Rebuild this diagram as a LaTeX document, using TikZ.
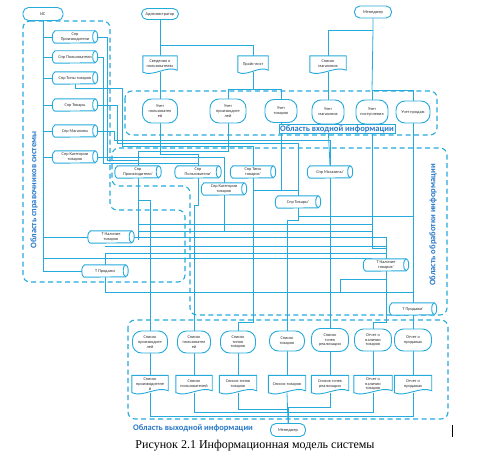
\documentclass[tikz,border=0pt]{standalone}
\usepackage{fontspec}
\setmainfont{Carlito}
\newfontfamily\capfont{Liberation Serif}
\usetikzlibrary{calc}
\pgfdeclarelayer{bg}
\pgfdeclarelayer{mid}
\pgfsetlayers{bg,mid,main}
\definecolor{lc}{RGB}{38,170,220}
\definecolor{lab}{RGB}{40,120,200}
\definecolor{tx}{RGB}{45,45,45}
\tikzset{
  ln/.style={draw=lc, line width=0.8pt},
  area/.style={draw=lc, line width=1.1pt, dash pattern=on 5pt off 3.5pt, rounded corners=7pt},
  small/.style={font=\fontsize{4.3}{4.9}\selectfont, text=tx, align=center, inner sep=0pt},
  term/.style={small, draw=lc, line width=0.9pt, fill=white, rounded corners=5.5pt},
  blob/.style={small, draw=lc, line width=0.9pt, fill=white, rounded corners=9pt},
  shapeln/.style={draw=lc, line width=0.9pt},
  arealabel/.style={font=\bfseries\fontsize{8.5}{10}\selectfont, text=lab, inner sep=1pt},
}
% document shape: name, x, y, w, h, text
\newcommand{\docnode}[6]{%
  \node[small, minimum width=#4pt, minimum height=#5pt] (#1) at (#2,#3) {#6};
  \begin{pgfonlayer}{mid}
  \draw[shapeln, fill=white] (#1.north west) -- (#1.north east) -- ($(#1.south east)+(0,-2)$)
     .. controls ($(#1.south east)+(-0.3*#4,-7)$) and ($(#1.south west)+(0.3*#4,5)$) .. (#1.south west) -- cycle;
  \end{pgfonlayer}}
% horizontal cylinder: name, x, y, w, h, text
\newcommand{\cylnode}[6]{%
  \node[small, minimum width=#4pt, minimum height=#5pt] (#1) at (#2,#3) {#6};
  \begin{pgfonlayer}{mid}
  \draw[shapeln, fill=white] (#1.north west) -- (#1.north east)
     arc[start angle=-90, end angle=90, x radius=2.5, y radius=#5/2] -- (#1.south west)
     arc[start angle=90, end angle=270, x radius=2.5, y radius=#5/2] -- cycle;
  \draw[shapeln] (#1.north east) arc[start angle=270, end angle=90, x radius=2.5, y radius=#5/2];
  \end{pgfonlayer}}
\begin{document}
\begin{tikzpicture}[x=1pt, y=-1pt]
\useasboundingbox (0,0) rectangle (481,460);
\begin{pgfonlayer}{bg}
\fill[white] (0,0) rectangle (481,460);
\end{pgfonlayer}

% ---------------- terminals
\node[term, minimum width=40pt, minimum height=13pt] (is) at (43,14) {ИС};
\node[term, minimum width=37pt, minimum height=11pt] (adm) at (160,14) {Администратор};
\node[term, minimum width=37pt, minimum height=12pt] (mgr) at (373,12) {Менеджер};
\node[term, minimum width=35pt, minimum height=13pt] (mgr2) at (288,430) {Менеджер};

% ---------------- input documents
\docnode{sved}{160}{64}{34}{16}{Сведения о\\пользователях}
\docnode{price}{253}{64}{30}{16}{Прайс-лист}
\docnode{smag}{328}{64}{36}{16}{Список\\магазинов}

% ---------------- input processes
\node[blob, minimum width=35pt, minimum height=24pt] (uuser) at (160,111) {Учет\\пользовател\\ей};
\node[blob, minimum width=36pt, minimum height=24pt] (uprod) at (228,111) {Учет\\производите\\лей};
\node[blob, minimum width=32pt, minimum height=23pt] (ugoods) at (281,111) {Учет\\товаров};
\node[blob, minimum width=32pt, minimum height=24pt] (ushop) at (328,112) {Учет\\магазинов};
\node[blob, minimum width=32pt, minimum height=24pt] (upost) at (372,112) {Учет\\поступления};
\node[blob, minimum width=34pt, minimum height=22pt] (usales) at (413,112) {Учет продаж};

% ---------------- directories
\cylnode{dprod}{75}{37}{40}{12}{Спр\\Производители}
\cylnode{duser}{75}{57}{40}{12}{Спр Пользователи}
\cylnode{dtypes}{75}{78}{40}{12}{Спр Типы товаров}
\cylnode{dgoods}{75}{105}{40}{12}{Спр Товары}
\cylnode{dshops}{75}{131}{40}{12}{Спр Магазины}
\cylnode{dcat}{75}{157}{40}{12}{Спр Категории\\товаров}
\cylnode{tnal}{111}{237}{41}{12}{Т Наличие\\товаров}
\cylnode{tprod}{105}{271}{41}{12}{Т Продажи}

% ---------------- processing
\cylnode{pprod}{138}{172}{41}{12}{Спр\\Производители'}
\cylnode{puser}{198}{172}{41}{12}{Спр\\Пользователи'}
\cylnode{ptypes}{253}{172}{40}{12}{Спр Типы\\товаров'}
\cylnode{pcat}{224}{189}{40}{12}{Спр Категории\\товаров}
\cylnode{pgoods}{298}{202}{40}{12}{Спр Товары'}
\cylnode{pshops}{330}{172}{40}{12}{Спр Магазины'}
\cylnode{tnal2}{386}{265}{40}{12}{Т Наличие\\товаров'}
\cylnode{tprod2}{413}{309}{42}{12}{Т Продажи'}

% ---------------- output
\node[blob, minimum width=35pt, minimum height=22pt] (oprod) at (150,342) {Список\\производите\\лей};
\node[blob, minimum width=33pt, minimum height=22pt] (ouser) at (194,342) {Список\\пользовател\\ей};
\node[blob, minimum width=35pt, minimum height=22pt] (otypes) at (238,342) {Список\\типов\\товаров};
\node[blob, minimum width=35pt, minimum height=20pt] (ogoods) at (287,341) {Список\\товаров};
\node[blob, minimum width=37pt, minimum height=23pt] (opoints) at (330,340) {Список\\точек\\реализации};
\node[blob, minimum width=37pt, minimum height=22pt] (onal) at (373,340) {Отчет о\\наличии\\товаров};
\node[blob, minimum width=37pt, minimum height=22pt] (osales) at (413,340) {Отчет о\\продажах};

\docnode{bprod}{150}{384}{36}{17}{Список\\производителе\\й}
\docnode{buser}{194}{384}{36}{17}{Список\\пользователей}
\docnode{btypes}{238}{384}{37}{17}{Список типов\\товаров}
\docnode{bgoods}{287}{384}{37}{17}{Список товаров}
\docnode{bpoints}{330}{384}{37}{17}{Список точек\\реализации}
\docnode{bnal}{373}{384}{38}{17}{Отчет о\\наличии\\товаров}
\docnode{bsales}{413}{384}{37}{17}{Отчет о\\продажах}

% ---------------- area labels and caption
\node[arealabel, rotate=90] (labdir) at (34,190) {Область справочников системы};
\node[arealabel, rotate=90] (labproc) at (433,225) {Область обработки информации};
\node[arealabel, draw=lc, line width=0.6pt, fill=white] (labin) at (337,129) {Область входной информации};
\node[arealabel] (labout) at (193,428) {Область выходной информации};
\node[font=\capfont\fontsize{12}{14}\selectfont, text=black, inner sep=0pt] (cap) at (255,446) {Рисунок 2.1 Информационная модель системы};
\coordinate (cur1) at (452,425);
\coordinate (cur2) at (452,437);
\draw[black, line width=1pt] (cur1) -- (cur2);

% ---------------- background: areas and connectors
\begin{pgfonlayer}{bg}
\draw[area] (23,21) -- (110,21) -- (110,210) -- (185,210) -- (185,282) -- (23,282) -- cycle;
\draw[area] (125,91) rectangle (437,135);
\draw[area] (112,148) -- (447,148) -- (447,315) -- (190,315) -- (190,186) -- (112,186) -- cycle;
\draw[area] (128,320) rectangle (448,419);

% IS trunk
\draw[ln] (is.south) |- (dprod.west);
\draw[ln] (is.south) |- (duser.west);
\draw[ln] (is.south) |- (dtypes.west);
\draw[ln] (is.south) |- (dgoods.west);
\draw[ln] (is.south) |- (dshops.west);
\draw[ln] (is.south) |- (dcat.west);
\draw[ln] (is.south) |- (tnal.west);
\draw[ln] (is.south) |- (tprod.west);
\coordinate (isb) at (372,258);
\draw[ln] (is.south) |- (isb);

% administrator
\coordinate (aj) at (160,45);
\draw[ln] (adm.south) -- (sved.north);
\draw[ln] (aj) -| (price.north);
\draw[ln] (sved.south) -- (uuser.north);
\coordinate (pj) at (253,89);
\draw[ln] (price.south) -- (pj);
\draw[ln] (pj) -| (uprod.north);
\draw[ln] (pj) -| (ugoods.north);

% manager
\coordinate (mj1) at (373,30);
\coordinate (mj2) at (372,90);
\draw[ln] (mgr.south) -- (mj1) -- (mj2);
\draw[ln] (mj1) -| (smag.north);
\draw[ln] (mj2) -- (upost.north);
\draw[ln] (mj2) -| (usales.north);
\draw[ln] (smag.south) -- (ushop.north);

% directories -> processing
\draw[ln] (dprod.east) -- (107,37) -- (107,160) -| (pprod.north);
\draw[ln] (duser.east) -- (103,57) -- (103,163) -| (puser.north);
\draw[ln] (dtypes.south) -- (75,88) -- (122,88) -- (122,146) -| (ptypes.north);
\draw[ln] (dgoods.east) -- (117,105) -- (117,143) -| (pgoods.north);
\draw[ln] (dshops.east) -- (114,131) -- (114,140) -| (pshops.north);
\draw[ln] (dcat.east) -| (pcat.north);

% input -> processing
\draw[ln] (uuser.south) -- (160,154) -| (puser.north);
\draw[ln] (uprod.south) -- (228,151) -| (pprod.north);
\draw[ln] (ugoods.south) -- (281,190) -| (pgoods.north);
\draw[ln] (ptypes.south) -- (253,190) -| (pgoods.north);
\draw[ln] (ushop.south) -- (pshops.north);
\draw[ln] (upost.south) -- (372,248) -| (tnal2.north);
\draw[ln] (usales.south) -- (tprod2.north);

% processing buses
\draw[ln] (pprod.south) -- (138,240);
\draw[ln] (pprod.south) -- (138,200) -| (oprod.north);
\draw[ln] (puser.south) -- (198,205) -| (ouser.north);
\draw[ln] (ptypes.south) -- (253,322) -| (otypes.north);
\draw[ln] (pcat.south) -- (224,231);
\draw[ln] (pgoods.south) -- (298,216) -| (tprod2.north);
\draw[ln] (pgoods.south) -- (298,220) -| (ogoods.north);
\draw[ln] (pshops.south) -- (opoints.north);
\draw[ln] (tnal2.south) -- (386,322) -| (onal.north);
\draw[ln] (tprod2.south) -- (osales.north);
\coordinate (ba1) at (138,224); \coordinate (ba2) at (372,224);
\coordinate (bb1) at (138,231); \coordinate (bb2) at (372,231);
\coordinate (bc1) at (105,246); \coordinate (bc2) at (386,246);
\draw[ln] (ba1) -- (ba2);
\draw[ln] (bb1) -- (bb2);
\draw[ln] (bc1) -- (bc2);
\draw[ln] (tnal.east) -| (tnal2.north);
\draw[ln] (tprod.north) -- (105,253) -- (386,253);
\draw[ln] (tprod.south) -- (105,292) -| (tprod2.north);
\draw[ln] (tnal2.south) -- (386,279) -- (340,279) -- (340,292);

% output -> documents
\draw[ln] (oprod.south) -- (bprod.north);
\draw[ln] (ouser.south) -- (buser.north);
\draw[ln] (otypes.south) -- (btypes.north);
\draw[ln] (ogoods.south) -- (bgoods.north);
\draw[ln] (opoints.south) -- (bpoints.north);
\draw[ln] (onal.south) -- (bnal.north);
\draw[ln] (osales.south) -- (bsales.north);

% documents -> manager
\draw[ln] (bprod.south) -- (150,416) -| (mgr2.north);
\draw[ln] (buser.south) -- (194,412) -| (mgr2.north);
\draw[ln] (btypes.south) -- (238,409) -| (mgr2.north);
\draw[ln] (bgoods.south) -- (mgr2.north);
\draw[ln] (bpoints.south) -- (330,407) -| (mgr2.north);
\draw[ln] (bnal.south) -- (373,412) -| (mgr2.north);
\draw[ln] (bsales.south) -- (413,416) -| (mgr2.north);
\end{pgfonlayer}
\end{tikzpicture}
\end{document}
